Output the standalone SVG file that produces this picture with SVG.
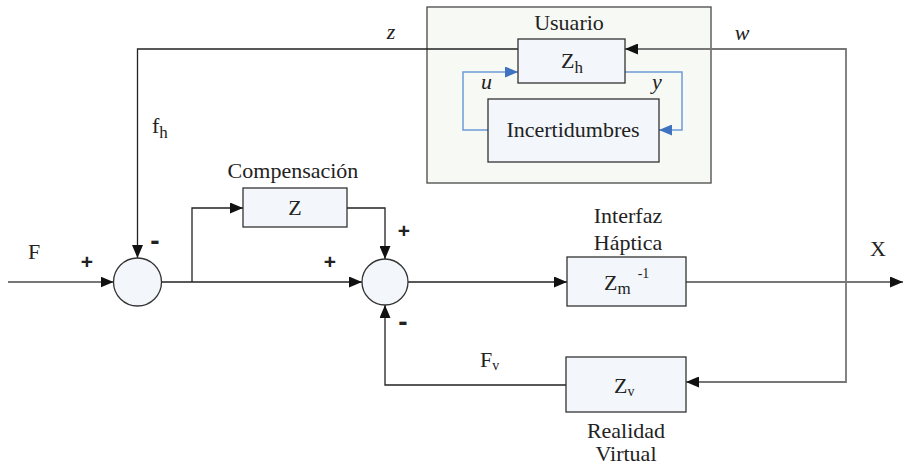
<svg xmlns="http://www.w3.org/2000/svg" width="903" height="467" viewBox="0 0 903 467">
  <defs>
    <marker id="arr" markerUnits="userSpaceOnUse" markerWidth="13" markerHeight="11" refX="13" refY="5.5" orient="auto">
      <path d="M0,0 L13,5.5 L0,11 z" fill="#111"/>
    </marker>
    <marker id="arrBlue" markerUnits="userSpaceOnUse" markerWidth="13" markerHeight="11" refX="13" refY="5.5" orient="auto">
      <path d="M0,0 L13,5.5 L0,11 z" fill="#3f72c0"/>
    </marker>
  </defs>
  <style>
    .blk { fill: #f3f7fb; stroke: #333; stroke-width: 1.3; }
    .sum { fill: #f3f7fb; stroke: #333; stroke-width: 1.3; }
    .grp { fill: #f7f9f4; stroke: #555; stroke-width: 1.4; }
    .ln { fill: none; stroke: #222; stroke-width: 1.3; }
    .lg { fill: none; stroke: #777; stroke-width: 1.8; }
    .lb { fill: none; stroke: #6f9bd6; stroke-width: 1.5; }
    .t { font-family: 'Liberation Serif', 'DejaVu Serif', serif; font-size: 22px; fill: #222; }
    .c { text-anchor: middle; }
    .it { font-style: italic; }
    .sg { font-family: 'Liberation Sans', 'DejaVu Sans', sans-serif; font-weight: bold; font-size: 21px; fill: #222; }
    .mn { font-size: 28px; }
    .sub { font-size: 17px; }
    .sm { font-size: 14px; }
  </style>

  <rect width="903" height="467" fill="#fff"/>

  <!-- user block with inner loop -->
  <g id="usuario">
    <rect class="grp" x="427" y="7" width="284" height="176"/>
    <text class="t c" x="569" y="30">Usuario</text>
  </g>

  <g id="connectors">
    <!-- inner uncertainty loop -->
    <path class="lb" d="M488 130 H463 V72 H518" marker-end="url(#arrBlue)"/>
    <path class="lb" d="M625 72 H682 V130 H659" marker-end="url(#arrBlue)"/>
    <!-- z feedback to first summer -->
    <path class="ln" d="M518 49 H137.5 V258" marker-end="url(#arr)"/>
    <!-- w feedback to Zh -->
    <path class="lg" d="M846 282 V49 H625" marker-end="url(#arr)"/>
    <!-- X to virtual reality -->
    <path class="lg" d="M846 282 V382 H686" marker-end="url(#arr)"/>
    <!-- input F -->
    <path class="lg" d="M8 282 H113.5" marker-end="url(#arr)"/>
    <!-- summer 1 to summer 2 -->
    <path class="ln" d="M161.5 282 H362" marker-end="url(#arr)"/>
    <!-- branch to compensation -->
    <path class="ln" d="M192 282 V208 H243" marker-end="url(#arr)"/>
    <path class="ln" d="M347 208 H385 V259" marker-end="url(#arr)"/>
    <!-- summer 2 to haptic interface -->
    <path class="ln" d="M408 282 H567" marker-end="url(#arr)"/>
    <!-- output X -->
    <path class="lg" d="M686 282 H903" marker-end="url(#arr)"/>
    <!-- virtual force feedback -->
    <path class="ln" d="M566 385 H385 V305" marker-end="url(#arr)"/>
  </g>

  <g id="zh">
    <rect class="blk" x="518" y="39" width="107" height="44"/>
    <text class="t" x="561" y="68">Z<tspan class="sub" dy="5">h</tspan></text>
  </g>

  <g id="incertidumbres">
    <rect class="blk" x="488" y="99" width="171" height="63"/>
    <text class="t c" x="573" y="137">Incertidumbres</text>
  </g>

  <g id="sum1">
    <circle class="sum" cx="137.5" cy="282" r="24"/>
  </g>

  <g id="sum2">
    <circle class="sum" cx="385" cy="282" r="23"/>
  </g>

  <g id="compensacion">
    <rect class="blk" x="243" y="188" width="104" height="39"/>
    <text class="t c" x="295" y="215">Z</text>
    <text class="t c" x="293" y="178">Compensación</text>
  </g>

  <g id="interfaz">
    <rect class="blk" x="567" y="257" width="119" height="49"/>
    <text class="t" x="604" y="290">Z<tspan class="sub" dy="4">m</tspan><tspan class="sm" dx="7" dy="-16">-1</tspan></text>
    <text class="t c" x="628" y="223">Interfaz</text>
    <text class="t c" x="628" y="250">Háptica</text>
  </g>

  <g id="realidad">
    <rect class="blk" x="566" y="357" width="120" height="55"/>
    <text class="t" x="614" y="393">Z<tspan class="sm" dy="3">v</tspan></text>
    <text class="t c" x="626" y="438">Realidad</text>
    <text class="t c" x="626" y="461">Virtual</text>
  </g>

  <!-- signal labels and signs -->
  <g id="labels">
    <text class="t c it" x="391" y="39">z</text>
    <text class="t c it" x="742" y="40">w</text>
    <text class="t it" x="481" y="89">u</text>
    <text class="t it" x="652" y="89">y</text>
    <text class="t" x="152" y="133">f<tspan class="sub" dy="5">h</tspan></text>
    <text class="t c" x="34" y="259">F</text>
    <text class="t c" x="878" y="256">X</text>
    <text class="t" x="480" y="367">F<tspan class="sm" dy="3">v</tspan></text>
    <text class="sg c" x="87" y="269">+</text>
    <text class="sg mn c" x="155" y="250">-</text>
    <text class="sg c" x="330" y="269">+</text>
    <text class="sg c" x="404" y="238">+</text>
    <text class="sg mn c" x="403" y="331">-</text>
  </g>
</svg>
